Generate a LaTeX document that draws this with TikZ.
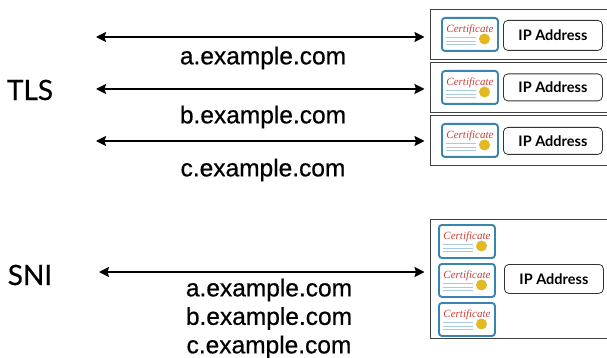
\documentclass[tikz,border=0pt]{standalone}
\usepackage{fontspec}
\setmainfont{Lato}
\newfontfamily\certfont{Liberation Serif}
\newfontfamily\domainfont[FakeBold=0.6]{Liberation Sans}
\newfontfamily\sidefont[FakeBold=0.5]{Lato}
\usetikzlibrary{arrows.meta}
\definecolor{certblue}{HTML}{3A84B0}
\definecolor{linesblue}{HTML}{A9C9E0}
\definecolor{certred}{HTML}{C8403A}
\definecolor{sealgold}{HTML}{E3B820}
\tikzset{
  x=1pt,y=-1pt,
  serverbox/.style={draw=black!75,line width=0.9pt,fill=white,minimum width=190pt,anchor=north west,inner sep=0pt,outer sep=0pt},
  certbox/.style={draw=certblue,line width=1.9pt,rounded corners=3pt,fill=white,minimum width=56pt,minimum height=33pt,anchor=north west,inner sep=0pt},
  ipbox/.style={draw=black!80,line width=0.8pt,rounded corners=4.5pt,fill=white,minimum width=99pt,anchor=north west,inner sep=0pt,font=\fontsize{14.5}{16}\selectfont\bfseries},
  link/.style={{Stealth[length=10pt,width=10pt,inset=1.5pt]}-{Stealth[length=10pt,width=10pt,inset=1.5pt]},line width=1.5pt,shorten >=5.5pt},
  domainlabel/.style={font=\fontsize{24.5}{26}\selectfont\domainfont,text=black,inner sep=0pt},
  sidelabel/.style={font=\fontsize{28}{30}\selectfont\sidefont,inner sep=0pt},
  certtext/.style={font=\fontsize{11}{12}\selectfont\certfont\itshape,text=certred,inner sep=0pt},
  certline/.style={draw=linesblue,line width=0.7pt},
  sealdot/.style={circle,fill=sealgold,minimum size=11pt,inner sep=0pt},
}
\newcommand{\certificate}[3]{%
  \node[certbox] (#1) at (#2,#3) {};
  \node[certtext] (#1t) at (#2+29,#3+13) {Certificate};
  \draw[certline] (#2+5,#3+20.5) -- (#2+35,#3+20.5);
  \draw[certline] (#2+5,#3+24) -- (#2+35,#3+24);
  \draw[certline] (#2+5,#3+27.5) -- (#2+35,#3+27.5);
  \node[sealdot] (#1s) at (#2+43.5,#3+22) {};
}
\begin{document}
\begin{tikzpicture}
\useasboundingbox (0,0) rectangle (607,358);
% TLS
\node[serverbox,minimum height=50pt] (box1) at (430,9) {};
\node[serverbox,minimum height=50pt] (box2) at (430,62) {};
\node[serverbox,minimum height=50pt] (box3) at (430,115) {};
\certificate{c1}{441}{17}
\certificate{c2}{441}{70}
\certificate{c3}{441}{123}
\node[ipbox,minimum height=30pt] (ip1) at (503,20) {IP Address};
\node[ipbox,minimum height=27pt] (ip2) at (503,73.5) {IP Address};
\node[ipbox,minimum height=27pt] (ip3) at (503,127) {IP Address};
\node[sidelabel] (tls) at (30,90) {TLS};
\coordinate (l1) at (96,37);
\coordinate (l2) at (96,89);
\coordinate (l3) at (96,141);
\draw[link] (l1) -- (box1.west |- l1);
\draw[link] (l2) -- (box2.west |- l2);
\draw[link] (l3) -- (box3.west |- l3);
\node[domainlabel] (ta) at (263,58) {a.example.com};
\node[domainlabel] (tb) at (263,117) {b.example.com};
\node[domainlabel] (tc) at (263,170) {c.example.com};
% SNI
\node[serverbox,minimum height=119pt] (box4) at (430,219) {};
\certificate{c4}{438}{224}
\certificate{c5}{438}{263}
\certificate{c6}{438}{302}
\node[ipbox,minimum height=29pt] (ip4) at (504,264) {IP Address};
\node[sidelabel] (sni) at (30,275) {SNI};
\coordinate (l4) at (99,272);
\draw[link] (l4) -- (box4.west |- l4);
\node[domainlabel] (sa) at (269,290) {a.example.com};
\node[domainlabel] (sb) at (269,318.5) {b.example.com};
\node[domainlabel] (sc) at (269,347) {c.example.com};
\end{tikzpicture}
\end{document}
